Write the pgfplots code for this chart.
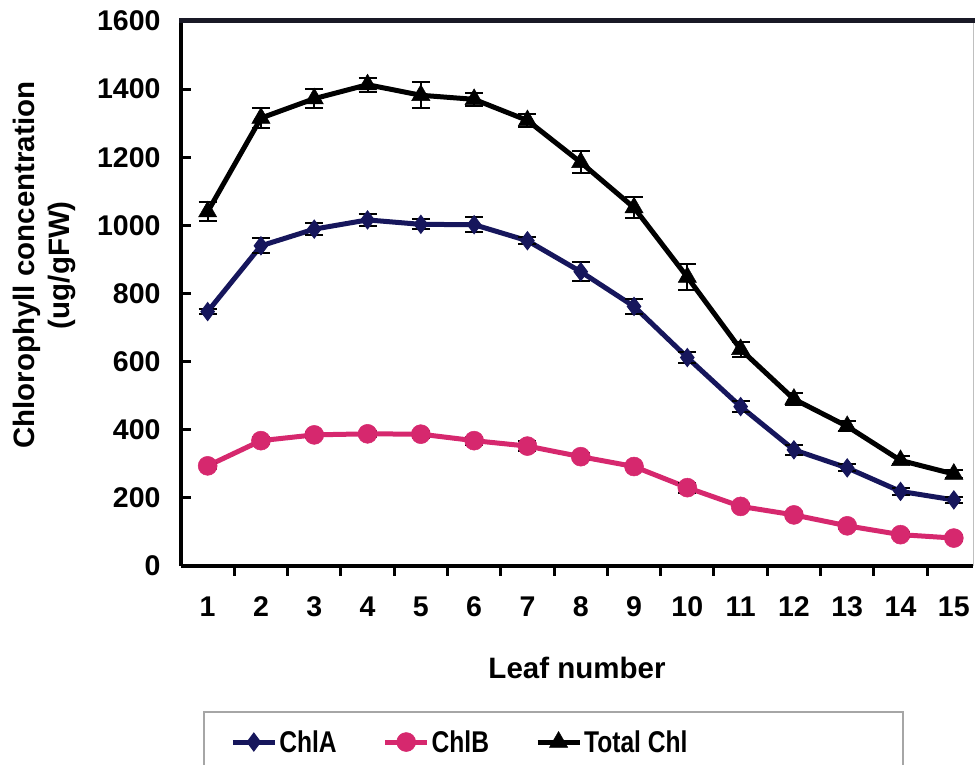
\documentclass[border=0pt]{standalone}
\usepackage{fontspec}
\setmainfont{Liberation Sans}
\usepackage{graphicx}
\usepackage{pgfplots}
\pgfplotsset{compat=1.18}
\definecolor{navyA}{RGB}{22,22,92}
\definecolor{pinkB}{RGB}{214,40,110}
\definecolor{topline}{RGB}{25,25,38}
\begin{document}
\begin{tikzpicture}[x=1pt,y=1pt]
\useasboundingbox (0,0) rectangle (975,764);
\begin{axis}[
  at={(181pt,198pt)}, anchor=south west,
  scale only axis, width=792pt, height=545pt,
  xmin=0.5, xmax=15.36, ymin=0, ymax=1600,
  axis x line*=bottom, axis y line*=left,
  axis line style={line width=4pt, black},
  tick align=inside,
  major tick length=10pt,
  minor tick length=-10pt,
  tick style={line width=3pt, black},
  ytick={0,200,...,1600},
  xtick={1,...,15},
  major x tick style={draw=none},
  minor xtick={1.5,2.5,...,14.5},
  /pgf/number format/assume math mode=true,
  /pgf/number format/1000 sep={},
  ticklabel style={font=\bfseries\fontsize{28.5}{30}\selectfont},
  yticklabel style={xshift=-17pt},
  xticklabel style={yshift=-27pt},
  xlabel={Leaf number},
  xlabel style={at={(axis description cs:0.5,-0.187)}, anchor=center, font=\bfseries\fontsize{29.5}{32}\selectfont},
  ylabel={Chlorophyll concentration\\[1pt](ug/gFW)},
  ylabel style={at={(axis description cs:-0.172,0.552)}, anchor=center, align=center, font=\bfseries\fontsize{29.5}{34}\selectfont},
  legend columns=3,
  legend style={at={(axis description cs:0.062,-0.323)}, anchor=west, draw=none, fill=none, inner sep=0pt,
    font=\bfseries\fontsize{30}{32}\selectfont,
    /tikz/every even column/.append style={column sep=44pt}},
  legend image code/.code={\draw[#1, mark repeat=2, mark phase=2] plot coordinates {(0pt,0pt) (21pt,0pt) (42pt,0pt)};},
  clip=false,
]
\addplot[navyA, line width=5pt, mark=diamond*, mark size=9pt, mark options={solid, line width=1pt, fill=navyA},
  error bars/.cd, y dir=both, y explicit,
  error bar style={line width=2pt, black},
  error mark options={rotate=90, mark size=9pt, line width=2pt, black}]
coordinates {
(1,747) +- (0,8)
(2,940) +- (0,22)
(3,989) +- (0,18)
(4,1016) +- (0,18)
(5,1003) +- (0,15)
(6,1002) +- (0,22)
(7,955) +- (0,10)
(8,864) +- (0,28)
(9,762) +- (0,22)
(10,612) +- (0,15)
(11,468) +- (0,15)
(12,341) +- (0,15)
(13,288) +- (0,10)
(14,219) +- (0,10)
(15,194) +- (0,8)
};
\addlegendentry{\scalebox{0.82}[1]{ChlA}}
\addplot[pinkB, line width=5pt, mark=*, mark size=9.5pt, mark options={solid, line width=0.5pt, fill=pinkB},
  error bars/.cd, y dir=both, y explicit,
  error bar style={line width=2pt, black},
  error mark options={rotate=90, mark size=9pt, line width=2pt, black}]
coordinates {
(1,294) +- (0,8)
(2,368) +- (0,10)
(3,385) +- (0,8)
(4,388) +- (0,8)
(5,387) +- (0,10)
(6,368) +- (0,12)
(7,352) +- (0,15)
(8,321) +- (0,10)
(9,292) +- (0,8)
(10,230) +- (0,15)
(11,175) +- (0,8)
(12,150) +- (0,8)
(13,118) +- (0,8)
(14,92) +- (0,8)
(15,82) +- (0,8)
};
\addlegendentry{\scalebox{0.82}[1]{ChlB}}
\addplot[black, line width=5pt, mark=triangle*, mark size=10.5pt, mark options={solid, line width=0.5pt, fill=black},
  error bars/.cd, y dir=both, y explicit,
  error bar style={line width=2pt, black},
  error mark options={rotate=90, mark size=9pt, line width=2pt, black}]
coordinates {
(1,1040) +- (0,28)
(2,1315) +- (0,30)
(3,1372) +- (0,28)
(4,1413) +- (0,20)
(5,1382) +- (0,38)
(6,1370) +- (0,20)
(7,1308) +- (0,18)
(8,1185) +- (0,32)
(9,1052) +- (0,30)
(10,848) +- (0,38)
(11,636) +- (0,22)
(12,490) +- (0,18)
(13,410) +- (0,15)
(14,310) +- (0,12)
(15,270) +- (0,12)
};
\addlegendentry{\scalebox{0.82}[1]{Total Chl}}
\end{axis}
\draw[topline, line width=5pt] (179,743) -- (975,743);
\draw[gray!50, line width=1pt] (973,198) -- (973,741);
\draw[gray!70, line width=1.5pt] (204,52) rectangle (903,-20);
\end{tikzpicture}
\end{document}
